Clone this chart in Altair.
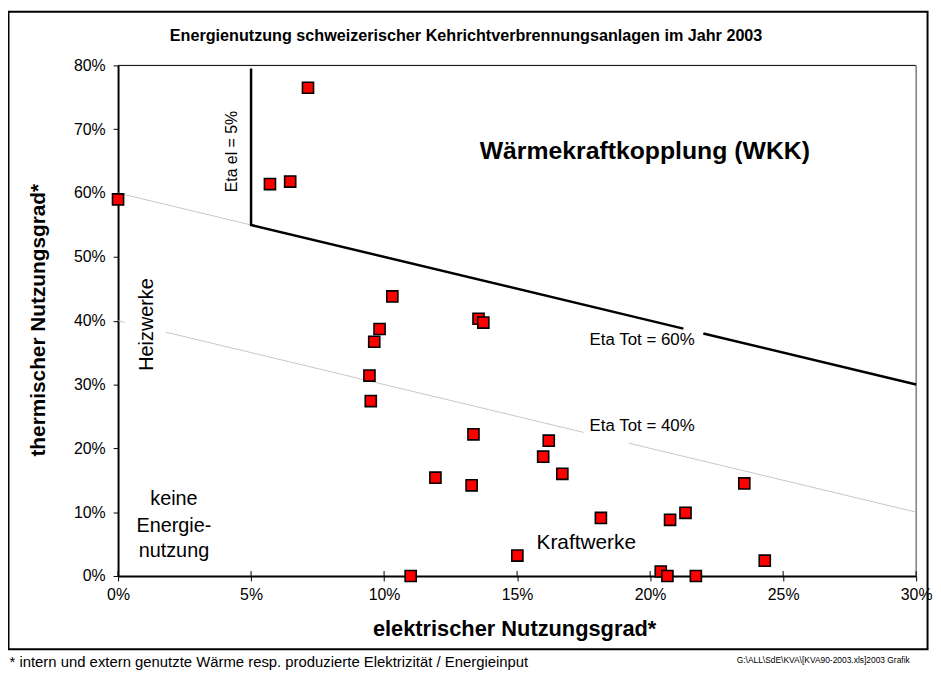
import altair as alt
import pandas as pd

# ---- data (percent) ----
elek = [0.0, 5.71, 6.47, 7.14, 10.31, 13.55, 13.73, 9.83, 9.63, 9.45, 9.50, 13.36, 16.19,
        11.93, 13.29, 15.98, 16.70, 15.01, 11.0, 18.15, 20.75, 21.33, 23.54, 24.31, 20.40, 20.65, 21.72]
therm = [59.0, 61.4, 61.8, 76.5, 43.8, 40.3, 39.7, 38.7, 36.7, 31.4, 27.4, 22.2, 21.2,
         15.4, 14.2, 18.7, 16.0, 3.2, 0.0, 9.1, 8.8, 9.9, 14.5, 2.4, 0.7, 0.0, 0.0]

# boundary lines (percent), split into segments
wkk_seg = ["a", "a", "a", "b", "b"]
wkk_x = [5.0, 5.0, 21.25, 22.0, 30.0]
wkk_y = [79.5, 55.0, 38.75, 38.0, 30.0]

eta60_seg = ["a", "a"]
eta60_x = [0.0, 5.0]
eta60_y = [60.0, 55.0]

eta40_seg = ["a", "a", "b", "b", "c", "c"]
eta40_x = [0.0, 0.25, 1.8, 17.5, 19.2, 30.0]
eta40_y = [40.0, 39.75, 38.2, 22.5, 20.8, 10.0]

x_ticks = [0, 5, 10, 15, 20, 25, 30]

FONT = "Liberation Sans"
W, H = 805, 515

pts = pd.DataFrame({"x": [v / 100 for v in elek], "y": [v / 100 for v in therm]})

xs = alt.Scale(domain=[0, 0.30], nice=False, zero=False)
ys = alt.Scale(domain=[0, 0.80], nice=False, zero=False)

def seg_df(seg, x, y):
    return pd.DataFrame({"seg": seg, "x": [v / 100 for v in x], "y": [v / 100 for v in y],
                         "o": list(range(len(x)))})

base_axes = alt.Chart(pts).mark_point(opacity=0).encode(
    x=alt.X("x:Q", scale=xs, axis=alt.Axis(
        values=[v / 100 for v in x_ticks], format=".0%", title=None, grid=False,
        domainColor="black", domainWidth=2, tickColor="black", tickSize=5, tickWidth=1,
        labelFontSize=16, labelColor="black", labelPadding=6, labelFont=FONT,
        labelFlush=False, labelOverlap=False)),
    y=alt.Y("y:Q", scale=ys, axis=alt.Axis(
        values=[i / 100 for i in range(0, 81, 10)], format=".0%", title=None, grid=False,
        domainColor="black", domainWidth=2, tickColor="black", tickSize=5, tickWidth=1,
        labelFontSize=16, labelColor="black", labelPadding=8, labelFont=FONT,
        labelFlush=False, labelOverlap=False)),
)

# inner halves of x ticks (ticks cross the axis)
inner_ticks = alt.Chart(pd.DataFrame({"x": [v / 100 for v in x_ticks]})).mark_rule(
    color="black", strokeWidth=1).encode(
    x=alt.X("x:Q", scale=xs), y=alt.value(H - 5), y2=alt.value(H))

# plot frame: top black, right gray
top_rule = alt.Chart(pd.DataFrame({"y": [0.80]})).mark_rule(color="black", strokeWidth=1).encode(
    y=alt.Y("y:Q", scale=ys), x=alt.value(0), x2=alt.value(W))
right_rule = alt.Chart(pd.DataFrame({"x": [0.30]})).mark_rule(color="#808080", strokeWidth=1.5).encode(
    x=alt.X("x:Q", scale=xs), y=alt.value(0), y2=alt.value(H))

def line_layer(df, color, width):
    return alt.Chart(df).mark_line(color=color, strokeWidth=width).encode(
        x=alt.X("x:Q", scale=xs), y=alt.Y("y:Q", scale=ys), detail="seg:N", order="o:Q")

wkk_line = line_layer(seg_df(wkk_seg, wkk_x, wkk_y), "black", 2.5)
eta60_line = line_layer(seg_df(eta60_seg, eta60_x, eta60_y), "#b8b8b8", 0.8)
eta40_line = line_layer(seg_df(eta40_seg, eta40_x, eta40_y), "#b8b8b8", 0.8)

points = alt.Chart(pts).mark_square(
    size=125, color="#FF0000", stroke="black", strokeWidth=1.6, opacity=1, fillOpacity=1).encode(
    x=alt.X("x:Q", scale=xs), y=alt.Y("y:Q", scale=ys))

def ann(text, x, y, size, bold=False, angle=0):
    return alt.Chart(pd.DataFrame({"x": [x / 100], "y": [y / 100]})).mark_text(
        text=text, font=FONT, fontSize=size, fontWeight="bold" if bold else "normal",
        angle=angle, color="black", align="center", baseline="middle").encode(
        x=alt.X("x:Q", scale=xs), y=alt.Y("y:Q", scale=ys))

annots = [
    ann("Wärmekraftkopplung (WKK)", 19.8, 66.5, 25, bold=True),
    ann("Eta el = 5%", 4.3, 66.5, 16, angle=270),
    ann("Heizwerke", 1.1, 39.4, 20, angle=270),
    ann("keine", 2.1, 12.0, 20),
    ann("Energie-", 2.1, 7.8, 20),
    ann("nutzung", 2.1, 3.9, 20),
    ann("Kraftwerke", 17.6, 5.2, 21),
    ann("Eta Tot = 60%", 19.7, 37.0, 17),
    ann("Eta Tot = 40%", 19.7, 23.5, 17),
]

one = pd.DataFrame({"a": [0]})

def ptext(text, px, py, size, bold=False, angle=0, align="center"):
    return alt.Chart(one).mark_text(
        text=text, font=FONT, fontSize=size, fontWeight="bold" if bold else "normal",
        angle=angle, color="black", align=align, baseline="middle").encode(
        x=alt.value(px), y=alt.value(py))

texts = [
    ptext("Energienutzung schweizerischer Kehrichtverbrennungsanlagen im Jahr 2003", 351, -30, 16.3, bold=True),
    ptext("thermischer Nutzungsgrad*", -79.5, 257, 21, bold=True, angle=270),
    ptext("elektrischer Nutzungsgrad*", 400, 569, 22, bold=True),
    ptext("* intern und extern genutzte Wärme resp. produzierte Elektrizität / Energieinput", -109.5, 602, 15, align="left"),
    ptext("G:\\ALL\\SdE\\KVA\\[KVA90-2003.xls]2003   Grafik", 624, 600, 8.5, align="left"),
]

border = alt.Chart(one).mark_rect(fillOpacity=0, stroke="black", strokeWidth=2).encode(
    x=alt.value(-110.5), x2=alt.value(816.5), y=alt.value(-54), y2=alt.value(589))

chart = alt.layer(
    base_axes, border, top_rule, right_rule, inner_ticks,
    eta60_line, eta40_line, wkk_line, *annots, points, *texts
).properties(
    width=W, height=H,
    autosize=alt.AutoSizeParams(type="none"),
    padding={"left": 111, "top": 55, "right": 17, "bottom": 99},
    background="white",
).configure_view(stroke=None).configure(font=FONT)

chart.save("out.html", embed_options={"renderer": "svg", "actions": False})
